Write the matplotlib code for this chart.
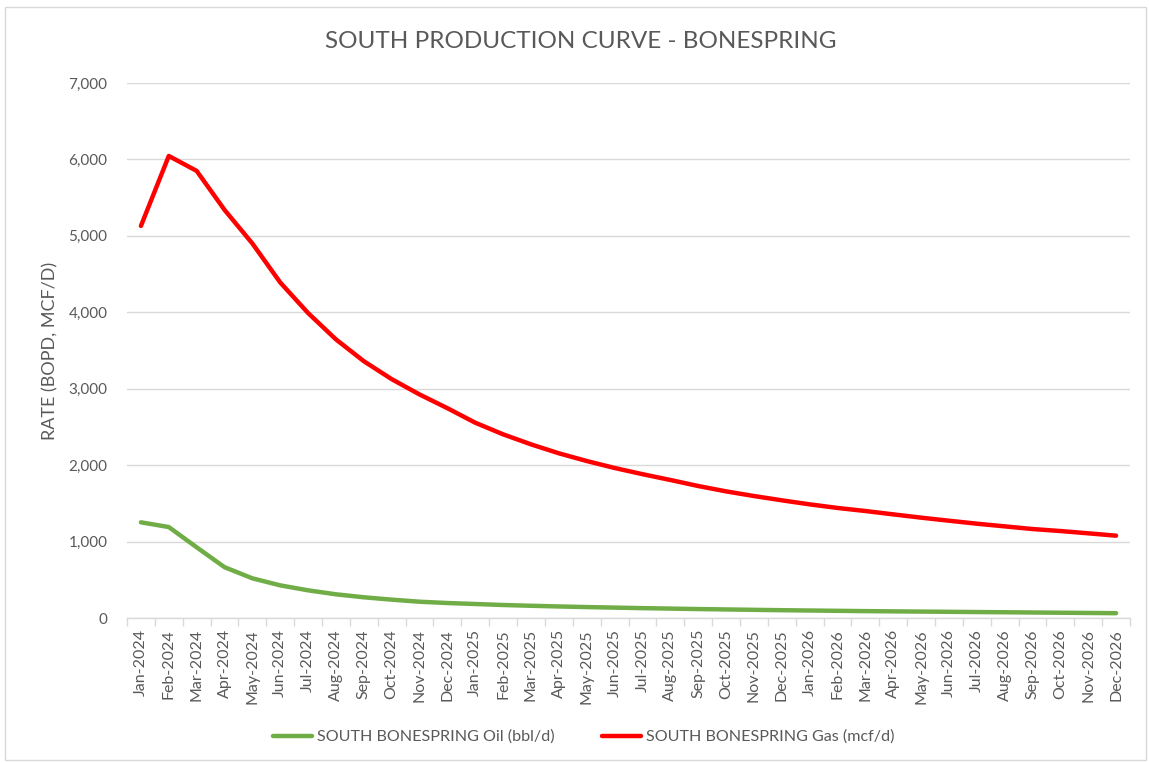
import matplotlib
matplotlib.use("Agg")
import matplotlib.pyplot as plt
from matplotlib.patches import Rectangle
from matplotlib.ticker import FuncFormatter, FixedLocator, NullFormatter

months = ["Jan", "Feb", "Mar", "Apr", "May", "Jun", "Jul", "Aug", "Sep", "Oct", "Nov", "Dec"]
years = [2024, 2025, 2026]
categories = [f"{m}-{y}" for y in years for m in months]

oil = [1252, 1190, 925, 665, 519, 427, 362, 310, 271, 240, 213, 196,
       183, 170, 160, 151, 143, 136, 129, 123, 117, 112, 107, 102,
       98, 94, 90, 87, 84, 81, 78, 75, 72, 69, 66, 63]
gas = [5130, 6045, 5850, 5340, 4900, 4390, 3990, 3645, 3360, 3125, 2925, 2745,
       2555, 2403, 2272, 2155, 2054, 1963, 1882, 1806, 1727, 1657, 1596, 1540,
       1487, 1440, 1400, 1356, 1313, 1273, 1234, 1199, 1164, 1138, 1108, 1077]

title = "SOUTH PRODUCTION CURVE - BONESPRING"
ylabel = "RATE (BOPD, MCF/D)"
oil_label = "SOUTH BONESPRING Oil (bbl/d)"
gas_label = "SOUTH BONESPRING Gas (mcf/d)"

plt.rcParams['font.family'] = ['Lato', 'DejaVu Sans']
txt = "#595959"
grid = "#d9d9d9"

fig = plt.figure(figsize=(11.49, 7.63), dpi=100)
W, H = 1149, 763
ax = fig.add_axes([127 / W, (H - 618) / H, (1130 - 127) / W, (618 - 83) / H])

x = list(range(len(categories)))
ax.plot(x, oil, color="#70AD47", lw=3.2, label=oil_label, solid_capstyle="round", zorder=3)
ax.plot(x, gas, color="#FF0000", lw=3.2, label=gas_label, solid_capstyle="round", zorder=3)

ax.set_xlim(-0.5, len(categories) - 0.5)
ax.set_ylim(0, 7000)
ax.set_yticks(range(0, 7001, 1000))
ax.yaxis.set_major_formatter(FuncFormatter(lambda v, p: f"{int(v):,}"))
ax.grid(axis="y", color=grid, lw=1.0, zorder=0)
ax.set_axisbelow(True)

ax.set_xticks(x)
ax.set_xticklabels(categories, rotation=90, fontsize=11.5, color=txt)
ax.tick_params(axis="x", which="major", length=0, pad=8)
ax.xaxis.set_minor_locator(FixedLocator([i - 0.5 for i in range(len(categories) + 1)]))
ax.xaxis.set_minor_formatter(NullFormatter())
ax.tick_params(axis="x", which="minor", length=6, color=grid, width=1)
ax.tick_params(axis="y", length=0, labelsize=11, labelcolor=txt, pad=14)

for s in ["top", "right", "left"]:
    ax.spines[s].set_visible(False)
ax.spines["bottom"].set_color(grid)
ax.spines["bottom"].set_linewidth(1.0)

ax.set_ylabel(ylabel, fontsize=13, color=txt, labelpad=7)
fig.text(581 / W, 1 - 42 / H, title, ha="center", va="center", fontsize=17.5, color=txt)

leg = fig.legend(loc="center", bbox_to_anchor=(0.508, 1 - 737 / H), ncol=2, frameon=False,
                 fontsize=11.6, handlelength=2.45, columnspacing=2.9, handletextpad=0.3)
for t in leg.get_texts():
    t.set_color(txt)

fig.patches.append(Rectangle((5 / W, 3 / H), 1141 / W, 753 / H, transform=fig.transFigure,
                             fill=False, edgecolor="#d9d9d9", lw=1.0))

fig.savefig("out.png", dpi=100, facecolor="white")
